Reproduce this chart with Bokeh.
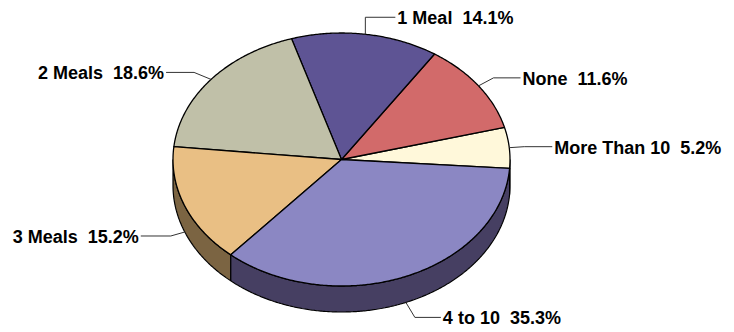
import math
from bokeh.plotting import figure
from bokeh.models import Range1d
from bokeh.core.properties import value
from bokeh.embed import file_html
from bokeh.resources import INLINE

# ---- data ----
categories = ["More Than 10", "None", "1 Meal", "2 Meals", "3 Meals", "4 to 10"]
percents = [5.2, 11.6, 14.1, 18.6, 15.2, 35.3]

# ---- styles ----
top_colors = ["#FFF8DA", "#D26A6A", "#5E5494", "#C0C0A8", "#E9BF84", "#8B87C3"]
side_colors = ["#7F7C6D", "#693535", "#2F2A4A", "#606054", "#7B6442", "#463F62"]

# ---- layout (pixel space) ----
CX, CY = 341.0, 159.0
RX, RY = 168.5, 126.5
DEPTH = 26.0
START = -4.0
elbow_offsets = [(15, -1), (15, -8), (0, -17), (-17, -7), (-14, 4), (9, 15)]
horiz = [28, 27, 30, -28, -30, 26]

W, H = 734, 332
p = figure(width=W, height=H, output_backend="svg", toolbar_location=None,
           x_range=Range1d(0, W), y_range=Range1d(H, 0),
           x_axis_type=None, y_axis_type=None, min_border=0)
p.outline_line_color = None
p.grid.visible = False


def pt(deg, dy=0.0):
    r = math.radians(deg)
    return CX + RX * math.cos(r), CY - RY * math.sin(r) + dy


total = sum(percents)
angles = []
a = START
for v in percents:
    span = v / total * 360.0
    angles.append((a, a + span))
    a += span

# sides (visible lower half)
sx, sy, sc = [], [], []
for (a0, a1), col in zip(angles, side_colors):
    for lo, hi in ((-180.0, 0.0), (180.0, 360.0)):
        t0, t1 = max(a0, lo), min(a1, hi)
        if t1 - t0 <= 0:
            continue
        n = max(4, int((t1 - t0) * 2))
        ts = [t0 + (t1 - t0) * i / n for i in range(n + 1)]
        top = [pt(t) for t in ts]
        bot = [pt(t, DEPTH) for t in reversed(ts)]
        poly = top + bot
        sx.append([q[0] for q in poly])
        sy.append([q[1] for q in poly])
        sc.append(col)
p.patches(sx, sy, fill_color=sc, line_color="black", line_width=1.2)

# top faces
tx, ty = [], []
for (a0, a1) in angles:
    n = max(4, int((a1 - a0) * 2))
    ts = [a0 + (a1 - a0) * i / n for i in range(n + 1)]
    poly = [(CX, CY)] + [pt(t) for t in ts]
    tx.append([q[0] for q in poly])
    ty.append([q[1] for q in poly])
p.patches(tx, ty, fill_color=top_colors, line_color="black", line_width=1.3,
          line_join="round")

# leaders and labels
lx, ly = [], []
for i, ((a0, a1), cat, v) in enumerate(zip(angles, categories, percents)):
    mid = (a0 + a1) / 2.0
    ax_, ay_ = pt(mid, DEPTH if math.sin(math.radians(mid)) < 0 else 0.0)
    ex, ey = ax_ + elbow_offsets[i][0], ay_ + elbow_offsets[i][1]
    hx = ex + horiz[i]
    lx.append([ax_, ex, hx])
    ly.append([ay_, ey, ey])
    right = horiz[i] > 0
    p.text(x=[hx + (2 if right else -2)], y=[ey + 1], text=[f"{cat}\u00a0\u00a0{v}%"],
           text_font=value("Liberation Sans"), text_font_style="bold",
           text_font_size="18px", text_color="black",
           text_align="left" if right else "right", text_baseline="middle")
p.multi_line(lx, ly, line_color="#333333", line_width=1)

open("out.html", "w").write(file_html(p, INLINE))
